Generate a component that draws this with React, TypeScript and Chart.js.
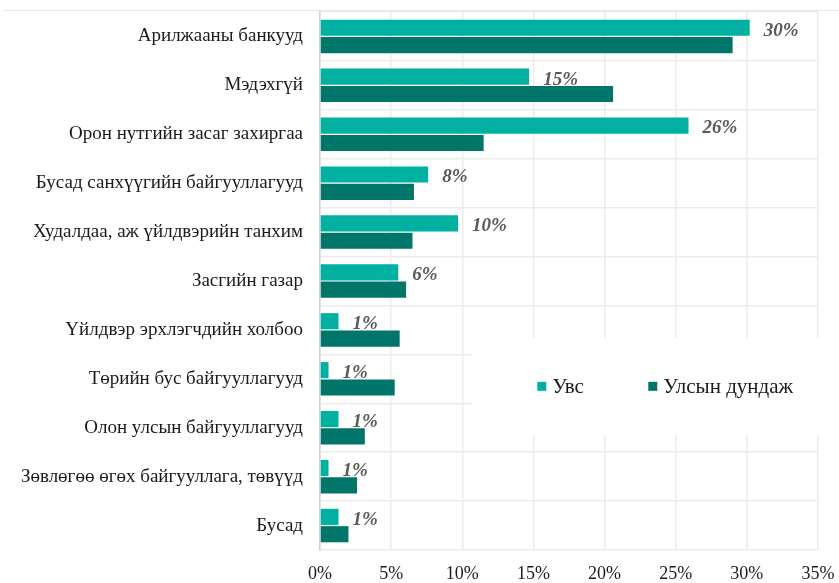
import React, { useEffect, useRef } from "react";
import { Chart, registerables } from "chart.js";

Chart.register(...registerables);

const categories = [
  "Арилжааны банкууд",
  "Мэдэхгүй",
  "Орон нутгийн засаг захиргаа",
  "Бусад санхүүгийн байгууллагууд",
  "Худалдаа, аж үйлдвэрийн танхим",
  "Засгийн газар",
  "Үйлдвэр эрхлэгчдийн холбоо",
  "Төрийн бус байгууллагууд",
  "Олон улсын байгууллагууд",
  "Зөвлөгөө өгөх байгууллага, төвүүд",
  "Бусад",
];

const uvsValues = [30.2, 14.7, 25.9, 7.6, 9.7, 5.5, 1.3, 0.6, 1.3, 0.6, 1.3];
const nationalValues = [29.0, 20.6, 11.5, 6.6, 6.5, 6.05, 5.6, 5.25, 3.15, 2.6, 2.0];

const seriesNames = ["Увс", "Улсын дундаж"];
const seriesColors = ["#00B0A0", "#00766A"];

const xTicks = [0, 5, 10, 15, 20, 25, 30, 35];

const SERIF = "'Liberation Serif', 'Times New Roman', serif";

const dataLabelPlugin = {
  id: "dataLabels",
  afterDatasetsDraw(chart: any) {
    const ctx = chart.ctx;
    const meta = chart.getDatasetMeta(0);
    const data = chart.data.datasets[0].data as number[];
    ctx.save();
    ctx.font = `italic bold 19px ${SERIF}`;
    ctx.fillStyle = "#595959";
    ctx.textAlign = "left";
    ctx.textBaseline = "middle";
    meta.data.forEach((el: any, i: number) => {
      ctx.fillText(Math.round(data[i]) + "%", el.x + 14, el.y + 3);
    });
    ctx.restore();
  },
};

const framePlugin = {
  id: "frame",
  beforeDraw(chart: any) {
    const ctx = chart.ctx;
    ctx.save();
    ctx.strokeStyle = "#E6E6E6";
    ctx.lineWidth = 1;
    ctx.beginPath();
    ctx.moveTo(3, 10.5);
    ctx.lineTo(chart.width, 10.5);
    ctx.stroke();
    ctx.restore();
  },
};

const legendPlugin = {
  id: "insideLegend",
  afterDraw(chart: any) {
    const ctx = chart.ctx;
    const xs = chart.scales.x;
    const ys = chart.scales.y;
    const left = xs.getPixelForValue(10) + 10;
    const top = ys.getPixelForValue(6) + 8.5;
    const bottom = ys.getPixelForValue(8) + 7.5;
    ctx.save();
    ctx.fillStyle = "#FFFFFF";
    ctx.fillRect(left, top, chart.width - left, bottom - top);
    const cy = (top + bottom) / 2 - 0.5;
    ctx.font = `21px ${SERIF}`;
    ctx.textBaseline = "middle";
    ctx.textAlign = "left";
    const starts = [left + 65, left + 176];
    chart.data.datasets.forEach((ds: any, i: number) => {
      const sx = starts[i];
      ctx.fillStyle = ds.backgroundColor;
      ctx.fillRect(sx, cy - 4.5, 9, 9);
      ctx.fillStyle = "#1A1A1A";
      ctx.fillText(ds.label, sx + 15, cy + 1);
    });
    ctx.restore();
  },
};

export default function App() {
  const canvasRef = useRef<HTMLCanvasElement | null>(null);

  useEffect(() => {
    if (!canvasRef.current) return;
    const chart = new Chart(canvasRef.current, {
      type: "bar",
      data: {
        labels: categories,
        datasets: [
          {
            label: seriesNames[0],
            data: uvsValues,
            backgroundColor: seriesColors[0],
            categoryPercentage: 0.71,
            barPercentage: 0.93,
          },
          {
            label: seriesNames[1],
            data: nationalValues,
            backgroundColor: seriesColors[1],
            categoryPercentage: 0.71,
            barPercentage: 0.93,
          },
        ],
      },
      options: {
        indexAxis: "y",
        responsive: true,
        maintainAspectRatio: false,
        animation: false,
        layout: { padding: { top: 12, right: 21, left: 0, bottom: 0 } },
        plugins: {
          legend: { display: false },
          tooltip: { enabled: false },
          title: { display: false },
        },
        scales: {
          x: {
            min: 0,
            max: 35,
            afterFit(scale: any) {
              scale.height = 33;
              scale.paddingLeft = 0;
              scale.paddingRight = 0;
              scale.paddingTop = 0;
              scale.paddingBottom = 0;
            },
            afterBuildTicks(scale: any) {
              scale.ticks = xTicks.map((v) => ({ value: v }));
            },
            ticks: {
              padding: 13,
              color: "#1A1A1A",
              font: { family: SERIF, size: 18 },
              callback: (v: any) => v + "%",
              maxRotation: 0,
            },
            grid: { color: "#EBEBEB", lineWidth: 1.5, drawTicks: false },
            border: { display: false },
          },
          y: {
            afterFit(scale: any) {
              scale.width = 320;
              scale.paddingLeft = 0;
              scale.paddingRight = 0;
              scale.paddingTop = 0;
              scale.paddingBottom = 0;
            },
            ticks: {
              padding: 17,
              color: "#1A1A1A",
              font: { family: SERIF, size: 19 },
              autoSkip: false,
            },
            grid: { color: "#EBEBEB", lineWidth: 1.5, drawTicks: false, offset: true },
            border: { display: true, color: "#D0D0D0", width: 1.5 },
          },
        },
      },
      plugins: [framePlugin, dataLabelPlugin, legendPlugin],
    });
    return () => chart.destroy();
  }, []);

  return (
    <div style={{ position: "fixed", left: 0, top: 0, width: 839, height: 583, background: "#FFFFFF" }}>
      <canvas ref={canvasRef} />
    </div>
  );
}
